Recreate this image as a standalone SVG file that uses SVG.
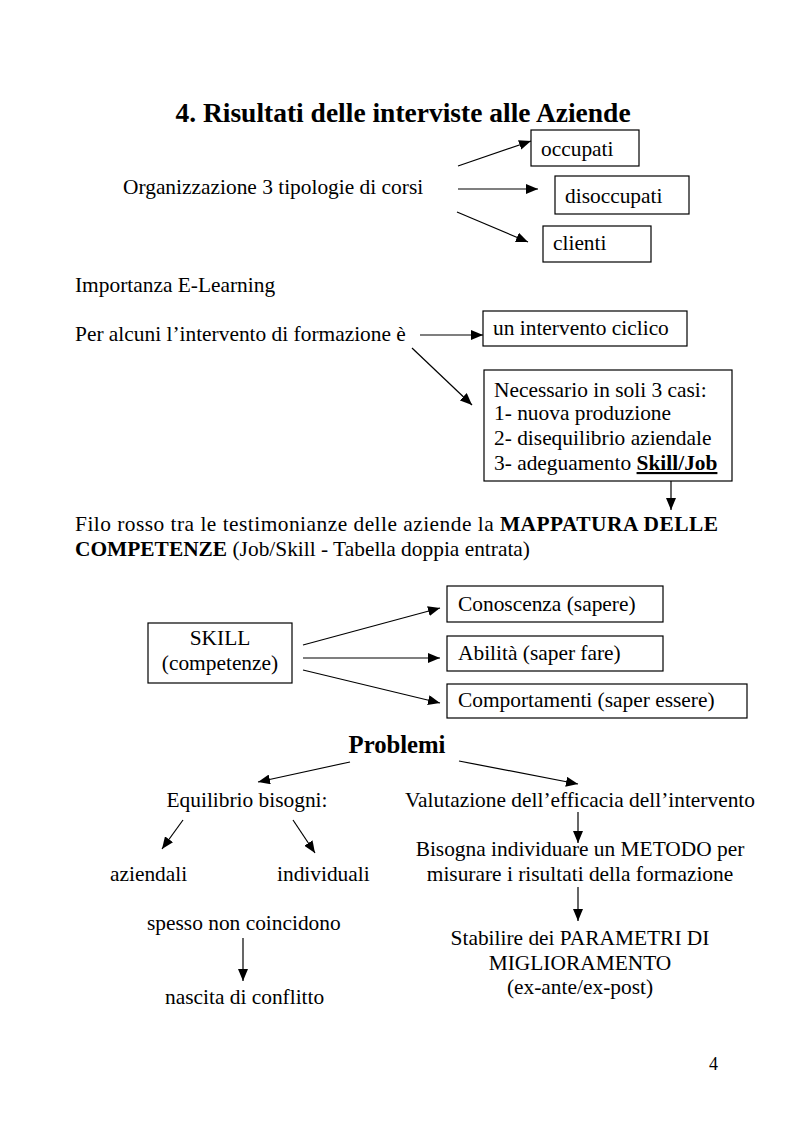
<svg xmlns="http://www.w3.org/2000/svg" width="793" height="1123" viewBox="0 0 793 1123">
<style>
text{font-family:"Liberation Serif","Times New Roman",serif;font-size:21.4px;fill:#000}
.b{font-weight:bold}
.c{text-anchor:middle}
.box{fill:#fff;stroke:#000;stroke-width:1.2}
.ln{stroke:#000;stroke-width:1.2;fill:none;marker-end:url(#ah)}
</style>
<defs>
<marker id="ah" markerUnits="userSpaceOnUse" markerWidth="12" markerHeight="10" refX="12" refY="5" orient="auto">
<path d="M0,0 L12,5 L0,10 Z" fill="#000"/>
</marker>
</defs>
<rect width="793" height="1123" fill="#fff"/>
<text class="b c" x="403" y="122" style="font-size:27.5px">4. Risultati delle interviste alle Aziende</text>
<g id="org"><text x="123" y="194">Organizzazione 3 tipologie di corsi</text></g>
<g id="occupati"><rect class="box" x="531" y="130" width="108" height="36"/><text x="541" y="156">occupati</text></g>
<g id="disoccupati"><rect class="box" x="555" y="176" width="134" height="38"/><text x="565" y="203">disoccupati</text></g>
<g id="clienti"><rect class="box" x="543" y="226" width="108" height="36"/><text x="553" y="250">clienti</text></g>
<g id="elearning"><text x="75" y="292">Importanza E-Learning</text></g>
<g id="per-alcuni"><text x="75" y="341">Per alcuni l’intervento di formazione è</text></g>
<g id="ciclico"><rect class="box" x="483" y="311" width="204" height="35"/><text x="493" y="335">un intervento ciclico</text></g>
<g id="necessario"><rect class="box" x="484" y="370" width="248" height="111"/>
<text x="494" y="397">Necessario in soli 3 casi:</text>
<text x="494" y="420">1- nuova produzione</text>
<text x="494" y="445">2- disequilibrio aziendale</text>
<text x="494" y="470">3- adeguamento <tspan class="b" text-decoration="underline">Skill/Job</tspan></text></g>
<g id="filo"><text x="75" y="531" textLength="643" lengthAdjust="spacing">Filo rosso tra le testimonianze delle aziende la <tspan class="b">MAPPATURA DELLE</tspan></text>
<text x="75" y="556"><tspan class="b">COMPETENZE</tspan> (Job/Skill - Tabella doppia entrata)</text></g>
<g id="skill"><rect class="box" x="148" y="623" width="144" height="60"/><text class="c" x="220" y="645">SKILL</text><text class="c" x="220" y="670">(competenze)</text></g>
<g id="conoscenza"><rect class="box" x="447" y="586" width="216" height="36"/><text x="458" y="611">Conoscenza (sapere)</text></g>
<g id="abilita"><rect class="box" x="447" y="636" width="216" height="35"/><text x="458" y="660">Abilità (saper fare)</text></g>
<g id="comportamenti"><rect class="box" x="447" y="684" width="300" height="34"/><text x="458" y="707">Comportamenti (saper essere)</text></g>
<g id="problemi"><text class="b c" x="397" y="753" style="font-size:24.7px">Problemi</text></g>
<g id="equilibrio"><text class="c" x="247" y="807">Equilibrio bisogni:</text></g>
<g id="valutazione"><text class="c" x="580" y="807">Valutazione dell’efficacia dell’intervento</text></g>
<g id="aziendali"><text x="110" y="881">aziendali</text></g>
<g id="individuali"><text x="277" y="881">individuali</text></g>
<g id="bisogna"><text class="c" x="580" y="856">Bisogna individuare un METODO per</text><text class="c" x="580" y="881">misurare i risultati della formazione</text></g>
<g id="spesso"><text x="147" y="930">spesso non coincidono</text></g>
<g id="nascita"><text x="165" y="1004">nascita di conflitto</text></g>
<g id="stabilire"><text class="c" x="580" y="945">Stabilire dei PARAMETRI DI</text><text class="c" x="580" y="970">MIGLIORAMENTO</text><text class="c" x="580" y="994">(ex-ante/ex-post)</text></g>
<g id="pagenum"><text x="709" y="1070" style="font-size:18px">4</text></g>
<g id="connectors">
<line class="ln" x1="458" y1="166" x2="531" y2="141"/>
<line class="ln" x1="458" y1="189" x2="538" y2="189"/>
<line class="ln" x1="457" y1="212" x2="528" y2="242"/>
<line class="ln" x1="420" y1="335" x2="483" y2="335"/>
<line class="ln" x1="412" y1="348" x2="472" y2="405"/>
<line class="ln" x1="671" y1="481" x2="671" y2="510"/>
<line class="ln" x1="303" y1="645" x2="440" y2="608"/>
<line class="ln" x1="303" y1="658" x2="440" y2="658"/>
<line class="ln" x1="303" y1="670" x2="440" y2="703"/>
<line class="ln" x1="350" y1="762" x2="258" y2="782"/>
<line class="ln" x1="459" y1="761" x2="578" y2="784"/>
<line class="ln" x1="183" y1="820" x2="162" y2="849"/>
<line class="ln" x1="293" y1="820" x2="315" y2="853"/>
<line class="ln" x1="578" y1="812" x2="578" y2="843"/>
<line class="ln" x1="578" y1="887" x2="578" y2="921"/>
<line class="ln" x1="243" y1="938" x2="243" y2="981"/>
</g>
</svg>
